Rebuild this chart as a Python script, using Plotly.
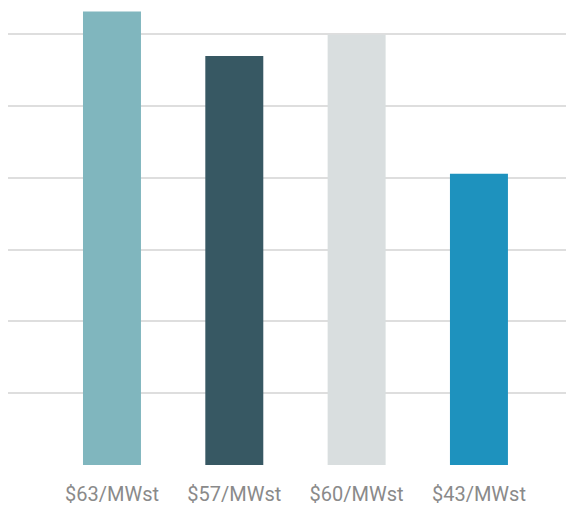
import plotly.graph_objects as go

# Data
categories = ["$63/MWst", "$57/MWst", "$60/MWst", "$43/MWst"]
bar_heights = [63.2, 57.0, 60.0, 40.6]
bar_colors = ["#80b6be", "#375863", "#d9dedf", "#1e92be"]
grid_values = [0, 10, 20, 30, 40, 50, 60]

fig = go.Figure(
    go.Bar(
        x=categories,
        y=bar_heights,
        marker=dict(color=bar_colors, line=dict(width=0)),
        width=0.474,
        hoverinfo="skip",
    )
)

fig.update_layout(
    width=566,
    height=497,
    margin=dict(l=0, r=0, t=0, b=40),
    paper_bgcolor="white",
    plot_bgcolor="white",
    showlegend=False,
    font=dict(family="Roboto", color="#8a8a8a"),
)

fig.update_xaxes(
    type="category",
    range=[-0.85, 3.777],
    showgrid=False,
    zeroline=False,
    showline=False,
    ticks="outside",
    ticklen=11,
    tickcolor="rgba(0,0,0,0)",
    tickfont=dict(family="Roboto", size=20, color="#8a8a8a"),
)

fig.update_yaxes(
    range=[0, 63.69],
    tickvals=grid_values,
    showticklabels=False,
    showgrid=True,
    gridcolor="rgba(0,0,0,0.13)",
    gridwidth=1.5,
    zeroline=False,
    showline=False,
    layer="above traces",
)

fig.write_html("out.html")
